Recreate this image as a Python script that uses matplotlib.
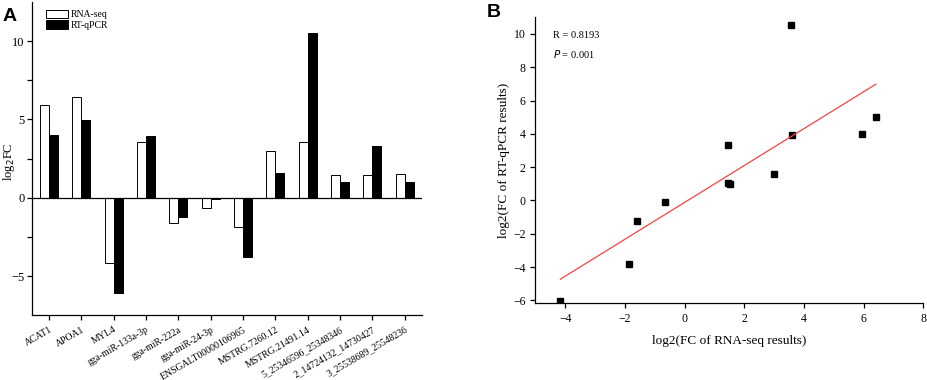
import matplotlib
matplotlib.use("Agg")
import matplotlib.pyplot as plt
import numpy as np

# log2 fold change values
genes = ["ACAT1", "APOA1", "MYL4", "gga-miR-133a-3p", "gga-miR-222a",
         "gga-miR-24-3p", "ENSGALT00000106965", "MSTRG.7260.12",
         "MSTRG.21491.14", "5_25346596_25348346", "2_14724132_14730427",
         "3_25538689_25548236"]
rna_seq = [5.94, 6.41, -4.16, 3.59, -1.61, -0.66, -1.87, 3.01, 3.55, 1.44, 1.44, 1.51]
rt_qpcr = [4.01, 4.99, -6.07, 3.93, -1.25, -0.08, -3.80, 1.57, 10.55, 1.04, 3.31, 0.98]
r_text = "R = 0.8193"
p_text = "P = 0.001"

plt.rcParams['font.family'] = 'Liberation Serif'
plt.rcParams['axes.linewidth'] = 0.9
plt.rcParams['xtick.major.width'] = 0.9
plt.rcParams['ytick.major.width'] = 0.9
plt.rcParams['ytick.minor.width'] = 0.9
plt.rcParams['xtick.major.size'] = 3.5
plt.rcParams['ytick.major.size'] = 3.5
plt.rcParams['ytick.minor.size'] = 3.5

fig = plt.figure(figsize=(9.27, 3.8), dpi=100)

# ---- Panel A: grouped bars
ax1 = fig.add_axes([0.0345, 0.1703, 0.4204, 0.8245])
x = np.arange(len(genes))
w = 0.28
ax1.bar(x - w / 2, rna_seq, width=w, color='white', edgecolor='black', linewidth=0.7, label='RNA-seq')
ax1.bar(x + w / 2, rt_qpcr, width=w, color='black', edgecolor='black', linewidth=0.7, label='RT-qPCR')
ax1.axhline(0, color='black', linewidth=0.9)

ax1.set_xlim(-0.53, 11.53)
ax1.set_ylim(-7.5, 12.5)
ax1.set_yticks([-5, 0, 5, 10])
ax1.set_yticks([-2.5, 2.5, 7.5], minor=True)
ax1.set_xticks(x)
ax1.set_xticklabels(genes, rotation=30, ha='right', rotation_mode='anchor', fontsize=7)
ax1.tick_params(axis='y', labelsize=9, pad=2)
ax1.set_ylabel("log$_2$FC", fontsize=9)
ax1.yaxis.set_label_coords(-0.039, 0.49)
ax1.spines['top'].set_visible(False)
ax1.spines['right'].set_visible(False)

ax1.legend(loc='upper left', bbox_to_anchor=(0.015, 1.0), frameon=False, fontsize=7,
           handlelength=2.3, handleheight=1.0, handletextpad=0.25, labelspacing=0.05,
           borderaxespad=0.4)

fig.text(0.003, 0.945, "A", fontsize=14, fontweight='bold', family='Liberation Sans')

# ---- Panel B: correlation scatter
ax2 = fig.add_axes([0.5775, 0.2018, 0.4186, 0.7526])
ax2.plot(rna_seq, rt_qpcr, 's', color='black', markersize=5)
slope, intercept = np.polyfit(rna_seq, rt_qpcr, 1)
xs = np.array([min(rna_seq), max(rna_seq)])
ax2.plot(xs, slope * xs + intercept, color='#f24444', linewidth=0.9)

ax2.set_xlim(-5, 8)
ax2.set_ylim(-6.18, 11)
ax2.set_xticks([-4, -2, 0, 2, 4, 6, 8])
ax2.set_yticks([-6, -4, -2, 0, 2, 4, 6, 8, 10])
ax2.tick_params(labelsize=8.5)
ax2.set_xlabel("log2(FC of RNA-seq results)", fontsize=9.5, labelpad=7)
ax2.set_ylabel("log2(FC of RT-qPCR results)", fontsize=9.5)
ax2.yaxis.set_label_coords(-0.066, 0.5)
ax2.spines['top'].set_visible(False)
ax2.spines['right'].set_visible(False)

ax2.text(0.045, 0.938, r_text, transform=ax2.transAxes, fontsize=7.5, va='center')
ax2.text(0.045, 0.872, "$\\it{P}$" + p_text[1:], transform=ax2.transAxes, fontsize=7.5, va='center')

fig.text(0.525, 0.955, "B", fontsize=14, fontweight='bold', family='Liberation Sans')

fig.savefig("out.png", dpi=100)
